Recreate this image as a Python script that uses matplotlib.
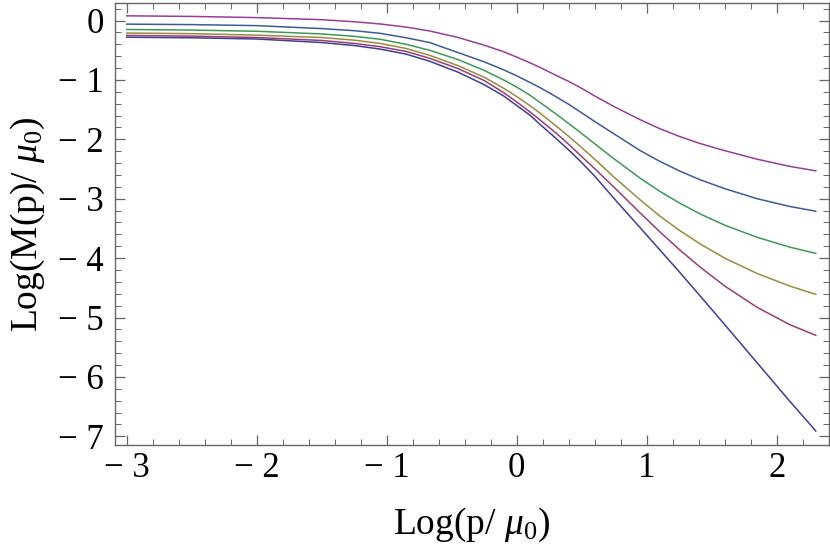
import matplotlib
matplotlib.use("Agg")
import matplotlib.pyplot as plt
from matplotlib.ticker import MultipleLocator, FuncFormatter

# Values
log_p = [-3.0, -2.5, -2.0, -1.5, -1.25, -1.05, -0.85, -0.67, -0.45, -0.25, -0.1,
         0.0, 0.1, 0.18, 0.3, 0.4, 0.49, 0.6, 0.75, 0.95, 1.1, 1.25, 1.41, 1.6,
         1.85, 2.1, 2.3]

curve_1 = [-0.28, -0.29, -0.31, -0.37, -0.42, -0.48, -0.565, -0.685, -0.87, -1.08, -1.27,
           -1.43, -1.59, -1.75, -1.98, -2.18, -2.37, -2.62, -3.0, -3.49, -3.86, -4.23, -4.635, -5.12,
           -5.765, -6.41, -6.91]
curve_2 = [-0.25, -0.262, -0.285, -0.335, -0.385, -0.44, -0.52, -0.635, -0.81, -1.01, -1.215,
           -1.37, -1.535, -1.675, -1.89, -2.085, -2.27, -2.495, -2.81, -3.24, -3.555, -3.855, -4.15, -4.47,
           -4.83, -5.12, -5.30]
curve_3 = [-0.21, -0.22, -0.245, -0.285, -0.33, -0.385, -0.47, -0.585, -0.76, -0.955, -1.14,
           -1.28, -1.43, -1.56, -1.77, -1.95, -2.12, -2.335, -2.64, -3.02, -3.29, -3.53, -3.76, -4.00,
           -4.26, -4.47, -4.61]
curve_4 = [-0.15, -0.16, -0.18, -0.225, -0.265, -0.315, -0.40, -0.50, -0.658, -0.84, -1.0,
           -1.12, -1.255, -1.38, -1.57, -1.735, -1.885, -2.075, -2.33, -2.655, -2.875, -3.07, -3.255, -3.445,
           -3.65, -3.815, -3.92]
curve_5 = [-0.06, -0.068, -0.085, -0.135, -0.17, -0.215, -0.29, -0.37, -0.54, -0.695, -0.83,
           -0.93, -1.04, -1.13, -1.28, -1.41, -1.54, -1.70, -1.91, -2.19, -2.37, -2.53, -2.68, -2.83,
           -3.00, -3.13, -3.21]
curve_6 = [0.08, 0.07, 0.05, 0.015, -0.02, -0.057, -0.11, -0.175, -0.285, -0.415, -0.525,
           -0.615, -0.71, -0.79, -0.92, -1.025, -1.13, -1.27, -1.45, -1.67, -1.82, -1.95, -2.07, -2.19,
           -2.335, -2.455, -2.53]

curves = [curve_1, curve_2, curve_3, curve_4, curve_5, curve_6]
colors = ["#3d3d99", "#993d71", "#998b3d", "#3d9954", "#3d5a99", "#993d99"]

plt.rcParams["font.family"] = ["Liberation Serif", "DejaVu Serif"]
plt.rcParams["mathtext.fontset"] = "custom"
plt.rcParams["mathtext.rm"] = "Liberation Serif"
plt.rcParams["mathtext.it"] = "Liberation Serif:italic"

fig = plt.figure(figsize=(8.3, 5.52), dpi=100)
ax = fig.add_axes([0.1386, 0.194, 0.8596, 0.801])

for ys, c in zip(curves, colors):
    ax.plot(log_p, ys, color=c, lw=1.1)

ax.set_xlim(-3.09, 2.398)
ax.set_ylim(-7.145, 0.30)

ax.xaxis.set_major_locator(MultipleLocator(1))
ax.xaxis.set_minor_locator(MultipleLocator(0.2))
ax.yaxis.set_major_locator(MultipleLocator(1))
ax.yaxis.set_minor_locator(MultipleLocator(0.2))

fmt = FuncFormatter(lambda v, pos: ("\u2212 %d" % -v) if v < 0 else "%d" % v)
ax.xaxis.set_major_formatter(fmt)
ax.yaxis.set_major_formatter(fmt)

frame_col = "#666666"
for s in ax.spines.values():
    s.set_color(frame_col)
    s.set_linewidth(1.0)
ax.tick_params(which="both", direction="in", top=True, right=True,
               color=frame_col, labelsize=25)
ax.tick_params(which="major", length=7, width=0.9)
ax.tick_params(which="minor", length=4, width=0.7)
ax.tick_params(axis="x", which="major", pad=5)
ax.tick_params(axis="y", which="major", pad=8)

ax.set_xlabel(r"Log(p/ $\mu_0$)", fontsize=27, labelpad=15)
ax.set_ylabel(r"Log(M(p)/ $\mu_0$)", fontsize=27, labelpad=8)

fig.savefig("out.png", dpi=100)
